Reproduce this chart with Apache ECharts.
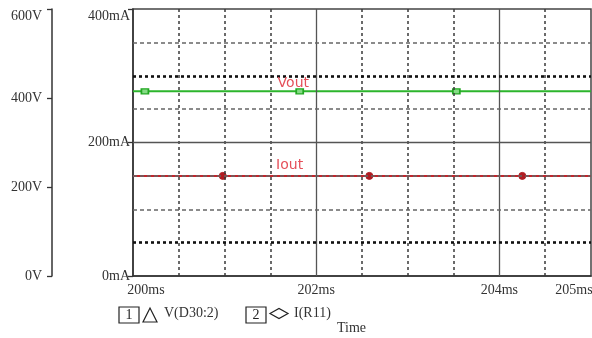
<!DOCTYPE html>
<html>
<head>
<meta charset="utf-8">
<script src="https://cdn.jsdelivr.net/npm/echarts@6/dist/echarts.min.js"></script>
<style>
  html, body { margin: 0; padding: 0; background: #fff; }
  #chart { width: 592px; height: 338px; }
</style>
</head>
<body>
<div id="chart"></div>
<script>
// Time axis (ms) and its labelled ticks
const timeTicks = [200, 202, 204, 205];
const majorTimes = [202, 204];
const minorTimes = [200.5, 201, 201.5, 202.5, 203, 203.5, 204.5];

// Horizontal grid levels, in mA on the current axis
const solidLevels = [200];
const dashedLevels = [350, 250, 150, 100];
const dottedLevels = [300, 50];

// V(D30:2) trace, volts
const vTimes = [200, 200.13, 201.82, 203.53, 205];
const vValues = [415, 415, 415, 415, 415];

// I(R11) trace, mA
const iTimes = [200, 200.98, 202.58, 204.25, 205];
const iValues = [150, 150, 150, 150, 150];

const serif = 'Liberation Serif';
const ink = '#333';

function traceData(times, values, sym) {
  const last = times.length - 1;
  return times.map((t, i) => ({
    value: [t, values[i]],
    symbol: (i === 0 || i === last) ? 'none' : sym
  }));
}

const gridLines = [].concat(
  minorTimes.map(t => ({ xAxis: t, lineStyle: { color: '#3a3a3a', width: 1.5, type: [3, 3] } })),
  majorTimes.map(t => ({ xAxis: t, lineStyle: { color: '#555', width: 1.3, type: 'solid' } })),
  dashedLevels.map(v => ({ yAxis: v, lineStyle: { color: '#666', width: 1.5, type: [4, 3] } })),
  dottedLevels.map(v => ({ yAxis: v, lineStyle: { color: '#111', width: 2.6, type: [3, 3] } })),
  solidLevels.map(v => ({ yAxis: v, lineStyle: { color: '#555', width: 1.3, type: 'solid' } }))
);

const labelFont = { fontFamily: serif, fontSize: 14, color: ink };

const chart = echarts.init(document.getElementById('chart'));
chart.setOption({
  animation: false,
  backgroundColor: '#fff',
  grid: {
    left: 133, right: 1, top: 9, bottom: 62,
    show: true, borderColor: '#444', borderWidth: 1.5,
    containLabel: false, outerBoundsMode: 'none'
  },
  xAxis: {
    type: 'value', min: 200, max: 205, interval: 1,
    axisLine: { show: true, onZero: false, lineStyle: { color: ink, width: 1.5 } },
    axisTick: { show: false },
    splitLine: { show: false },
    axisLabel: Object.assign({
      margin: 7,
      formatter: v => {
        if (!timeTicks.includes(v)) return '';
        if (v === timeTicks[0]) return '{first|' + v + 'ms}';
        if (v === timeTicks[timeTicks.length - 1]) return '{last|' + v + 'ms}';
        return v + 'ms';
      },
      rich: {
        first: Object.assign({ padding: [0, 0, 0, 26] }, labelFont),
        last: Object.assign({ padding: [0, 34, 0, 0] }, labelFont)
      }
    }, labelFont)
  },
  yAxis: [
    {
      type: 'value', min: 0, max: 400, interval: 200, position: 'left',
      axisLine: { show: true, lineStyle: { color: ink, width: 1.5 } },
      axisTick: { show: true, length: 5, lineStyle: { color: ink, width: 1.3 } },
      splitLine: { show: false },
      axisLabel: Object.assign({ margin: 3, formatter: '{value}mA', verticalAlignMaxLabel: 'top' }, labelFont)
    },
    {
      type: 'value', min: 0, max: 600, interval: 200, position: 'left', offset: 81,
      axisLine: { show: true, lineStyle: { color: ink, width: 1.5 } },
      axisTick: { show: true, length: 5, lineStyle: { color: ink, width: 1.3 } },
      splitLine: { show: false },
      axisLabel: Object.assign({ margin: 10, formatter: '{value}V', verticalAlignMaxLabel: 'top' }, labelFont)
    }
  ],
  series: [
    {
      name: 'grid',
      type: 'line',
      yAxisIndex: 0,
      data: [[200, 0]],
      showSymbol: false,
      lineStyle: { opacity: 0 },
      silent: true,
      z: 1,
      markLine: {
        silent: true,
        symbol: ['none', 'none'],
        label: { show: false },
        animation: false,
        data: gridLines
      }
    },
    {
      name: 'V(D30:2)',
      type: 'line',
      yAxisIndex: 1,
      data: traceData(vTimes, vValues, 'rect'),
      symbolSize: [7, 5],
      showAllSymbol: true,
      lineStyle: { color: '#2cb52c', width: 2 },
      itemStyle: { color: '#86db86', borderColor: '#23a823', borderWidth: 1.5 },
      z: 3,
      markPoint: {
        symbol: 'circle', symbolSize: 1,
        itemStyle: { color: 'rgba(0,0,0,0)' },
        label: {
          show: true, formatter: 'Vout', position: 'inside', offset: [0, -8],
          fontFamily: 'DejaVu Sans', fontSize: 14, color: '#e5505a'
        },
        data: [{ coord: [201.75, 415] }]
      }
    },
    {
      name: 'I(R11)',
      type: 'line',
      yAxisIndex: 0,
      data: traceData(iTimes, iValues, 'circle'),
      symbolSize: 7,
      showAllSymbol: true,
      lineStyle: { color: '#c0262c', width: 2 },
      itemStyle: { color: '#b01c22', borderColor: '#b01c22' },
      z: 3,
      markPoint: {
        symbol: 'circle', symbolSize: 1,
        itemStyle: { color: 'rgba(0,0,0,0)' },
        label: {
          show: true, formatter: 'Iout', position: 'inside', offset: [0, -11],
          fontFamily: 'DejaVu Sans', fontSize: 14, color: '#e5505a'
        },
        data: [{ coord: [201.71, 150] }]
      }
    }
  ],
  graphic: [
    { type: 'rect', shape: { x: 119, y: 307, width: 20, height: 16 }, style: { fill: 'none', stroke: '#222', lineWidth: 1.2 } },
    { type: 'text', x: 129, y: 315, style: { text: '1', font: '14px "Liberation Serif"', fill: '#222', align: 'center', verticalAlign: 'middle' } },
    { type: 'polygon', shape: { points: [[143, 322], [157, 322], [150, 308]] }, style: { fill: 'none', stroke: '#222', lineWidth: 1.2 } },
    { type: 'text', x: 164, y: 313, style: { text: 'V(D30:2)', font: '14px "Liberation Serif"', fill: '#333', verticalAlign: 'middle' } },
    { type: 'rect', shape: { x: 246, y: 307, width: 20, height: 16 }, style: { fill: 'none', stroke: '#222', lineWidth: 1.2 } },
    { type: 'text', x: 256, y: 315, style: { text: '2', font: '14px "Liberation Serif"', fill: '#222', align: 'center', verticalAlign: 'middle' } },
    { type: 'polygon', shape: { points: [[270, 313.5], [279, 308.5], [288, 313.5], [279, 318.5]] }, style: { fill: 'none', stroke: '#222', lineWidth: 1.2 } },
    { type: 'text', x: 294, y: 313, style: { text: 'I(R11)', font: '14px "Liberation Serif"', fill: '#333', verticalAlign: 'middle' } },
    { type: 'text', x: 337, y: 328, style: { text: 'Time', font: '14px "Liberation Serif"', fill: '#333', verticalAlign: 'middle' } }
  ]
});
</script>
</body>
</html>
